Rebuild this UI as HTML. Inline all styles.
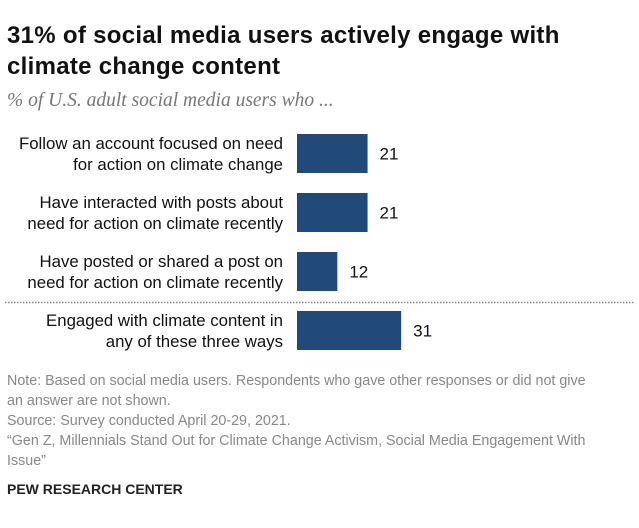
<!DOCTYPE html>
<html><head><meta charset="utf-8"><style>
body{margin:0;width:639px;height:528px;background:#fff;font-family:"Liberation Sans",sans-serif;position:relative;overflow:hidden}
.t{position:absolute;left:7px;top:20px;font-size:24px;letter-spacing:0.3px;font-weight:bold;color:#111;line-height:31px;width:600px}
.s{position:absolute;left:7px;top:90px;font-family:"Liberation Serif",serif;font-style:italic;font-size:19.5px;color:#777}
.n{position:absolute;left:7px;top:371px;font-size:14.3px;color:#888;line-height:20px;width:598px}
.p{position:absolute;left:7px;top:481px;font-size:14px;font-weight:bold;color:#222}
</style></head><body>
<div class="t">31% of social media users actively engage with climate change content</div>
<div class="s">% of U.S. adult social media users who ...</div>
<svg id="c" width="639" height="528" style="position:absolute;left:0;top:0"></svg>
<div class="n">Note: Based on social media users. Respondents who gave other responses or did not give an answer are not shown.<br>Source: Survey conducted April 20-29, 2021.<br>“Gen Z, Millennials Stand Out for Climate Change Activism, Social Media Engagement With Issue”</div>
<div class="p">PEW RESEARCH CENTER</div>
<script>
const categories=[["Follow an account focused on need","for action on climate change"],["Have interacted with posts about","need for action on climate recently"],["Have posted or shared a post on","need for action on climate recently"],["Engaged with climate content in","any of these three ways"]];
const values=[21,21,12,31];
const NS="http://www.w3.org/2000/svg",svg=document.getElementById('c');
const x0=297,sc=3.36,yTop=[134,193,252,311],bh=39;
function xs(v){return v*sc;}
function mk(t,a){const e=document.createElementNS(NS,t);for(const k in a)e.setAttribute(k,a[k]);svg.appendChild(e);return e;}
values.forEach((v,i)=>{
const y=yTop[i];
const r=mk('rect',{x:x0,y:y,width:xs(v),height:bh,fill:'#214a7a'});


const t=mk('text',{x:x0+xs(v)+12,y:y+bh/2+6,'font-size':17,fill:'#111'});t.textContent=v;


categories[i].forEach((l,j)=>{const tt=mk('text',{x:283,y:y+15+j*21,'text-anchor':'end','font-size':16.8,fill:'#111'});tt.textContent=l;

});
});
const d=mk('line',{x1:5,x2:634,y1:302.5,y2:302.5,stroke:'#888','stroke-width':1.5,'stroke-dasharray':'1.5 1.5'});


</script>
</body></html>
